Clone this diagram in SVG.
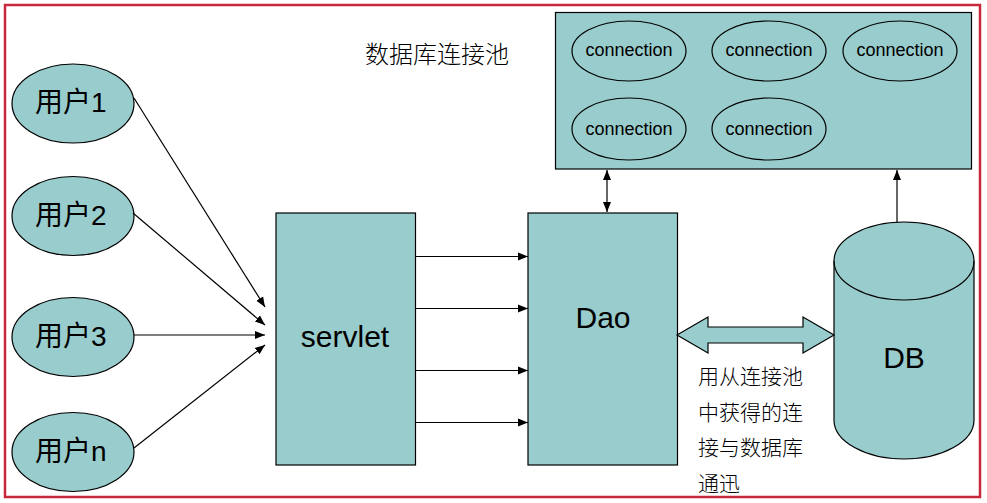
<svg xmlns="http://www.w3.org/2000/svg" width="987" height="503" viewBox="0 0 987 503">
<style>
.f{fill:#99CCCC;stroke:#000;stroke-width:1.2}
.ln{stroke:#000;stroke-width:1.2;fill:none}
.cn{font-family:"Liberation Sans",Arial,sans-serif;font-size:18px;fill:#000;text-anchor:middle}
.big{font-family:"Liberation Sans",Arial,sans-serif;font-size:30px;fill:#000;text-anchor:middle}
.u{font-family:"Liberation Sans","Noto Sans CJK SC",sans-serif;font-size:28px;fill:#000}
.cj{font-family:"Noto Sans CJK SC",sans-serif;font-weight:300;fill:#000}
</style>
<defs>
<marker id="ar" viewBox="0 0 10 10" refX="10" refY="5" markerWidth="10" markerHeight="10" markerUnits="userSpaceOnUse" orient="auto-start-reverse">
<path d="M0,1 L10,5 L0,9 Z" fill="#000"/>
</marker>
</defs>
<rect x="0" y="0" width="987" height="503" fill="#fff"/>
<rect x="5" y="5" width="975" height="492" fill="none" stroke="#C8283C" stroke-width="2.5"/>

<text class="cj" x="365" y="63" font-size="24">数据库连接池</text>

<g id="pool">
<rect class="f" x="555.5" y="12.5" width="416" height="156.5"/>
<g id="conn1"><ellipse class="f" cx="629" cy="51" rx="57" ry="30"/><text class="cn" x="629" y="56">connection</text></g>
<g id="conn2"><ellipse class="f" cx="769" cy="51" rx="57" ry="30"/><text class="cn" x="769" y="56">connection</text></g>
<g id="conn3"><ellipse class="f" cx="900" cy="51" rx="57" ry="30"/><text class="cn" x="900" y="56">connection</text></g>
<g id="conn4"><ellipse class="f" cx="629" cy="129" rx="57" ry="31"/><text class="cn" x="629" y="135">connection</text></g>
<g id="conn5"><ellipse class="f" cx="769" cy="129" rx="57" ry="31"/><text class="cn" x="769" y="135">connection</text></g>
</g>

<g id="user1"><ellipse class="f" cx="73" cy="103.5" rx="61" ry="39.5"/><text class="u" x="35" y="112">用户1</text></g>
<g id="user2"><ellipse class="f" cx="73" cy="216" rx="61" ry="39.5"/><text class="u" x="35" y="225">用户2</text></g>
<g id="user3"><ellipse class="f" cx="73" cy="337" rx="61" ry="39.5"/><text class="u" x="35" y="346">用户3</text></g>
<g id="usern"><ellipse class="f" cx="73" cy="452" rx="61" ry="39.5"/><text class="u" x="35" y="461">用户n</text></g>

<g id="servlet"><rect class="f" x="276" y="213" width="139.5" height="252"/><text class="big" x="345" y="347">servlet</text></g>
<g id="dao"><rect class="f" x="528" y="213" width="149.5" height="252"/><text class="big" x="603" y="328">Dao</text></g>

<g id="db">
<path class="f" d="M834,261 A70,39 0 0 1 974,261 L974,420 A70,39 0 0 1 834,420 Z"/>
<path class="ln" d="M834,261 A70,39 0 0 0 974,261"/>
<text class="big" x="904" y="368">DB</text>
</g>

<g id="connectors">
<line class="ln" x1="134" y1="98" x2="265" y2="307" marker-end="url(#ar)"/>
<line class="ln" x1="133" y1="213" x2="265" y2="325" marker-end="url(#ar)"/>
<line class="ln" x1="134" y1="335" x2="265" y2="335" marker-end="url(#ar)"/>
<line class="ln" x1="134" y1="448" x2="265" y2="345" marker-end="url(#ar)"/>
<line class="ln" x1="415.5" y1="256.5" x2="528" y2="256.5" marker-end="url(#ar)"/>
<line class="ln" x1="415.5" y1="308.5" x2="528" y2="308.5" marker-end="url(#ar)"/>
<line class="ln" x1="415.5" y1="370.5" x2="528" y2="370.5" marker-end="url(#ar)"/>
<line class="ln" x1="415.5" y1="422.5" x2="528" y2="422.5" marker-end="url(#ar)"/>
<line class="ln" x1="607" y1="170" x2="607" y2="212" marker-start="url(#ar)" marker-end="url(#ar)"/>
<line class="ln" x1="897" y1="222" x2="897" y2="170" marker-end="url(#ar)"/>
<polygon class="f" points="677,335 708,317 708,327 803,327 803,317 834,335 803,353 803,343 708,343 708,353"/>
</g>

<g id="note" class="cj" font-size="21">
<text x="698" y="384">用从连接池</text>
<text x="698" y="420">中获得的连</text>
<text x="698" y="455">接与数据库</text>
<text x="698" y="491">通迅</text>
</g>
</svg>
